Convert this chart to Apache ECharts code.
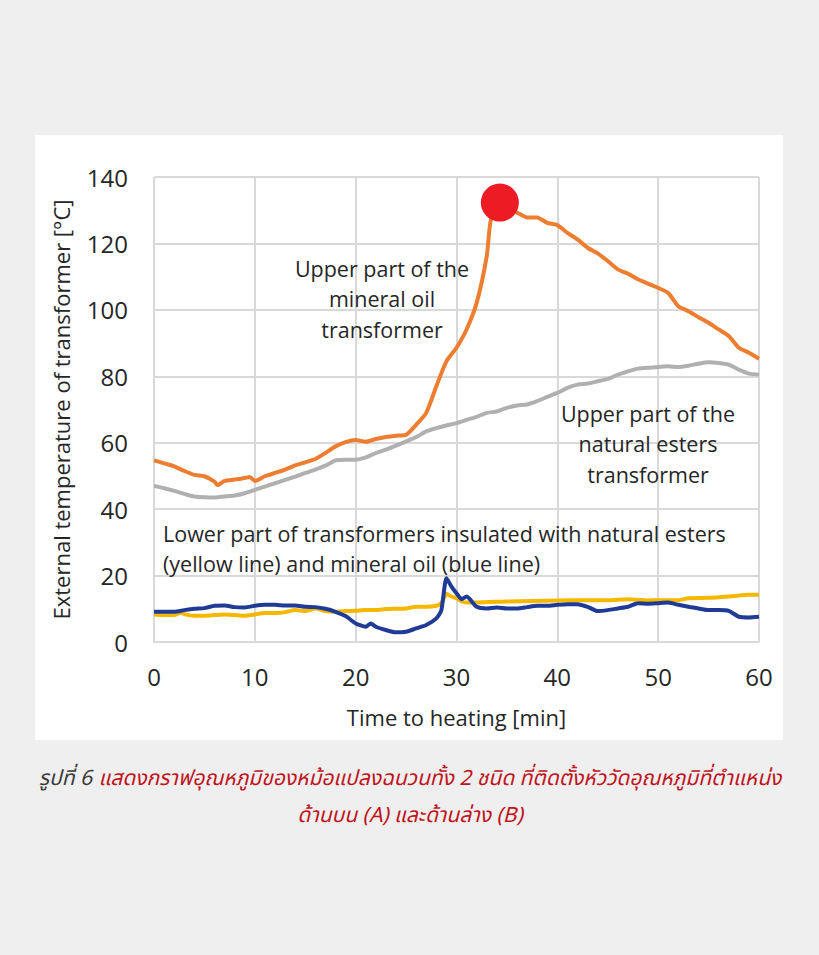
<!DOCTYPE html>
<html>
<head>
<meta charset="utf-8">
<script src="https://cdn.jsdelivr.net/npm/echarts@6/dist/echarts.min.js"></script>
<style>
  html, body { margin: 0; padding: 0; background: #efefef; }
  #chart { width: 819px; height: 955px; }
</style>
</head>
<body>
<div id="chart"></div>
<script>
// ---- Data ----
const xTicks = [0, 10, 20, 30, 40, 50, 60];
const yTicks = [0, 20, 40, 60, 80, 100, 120, 140];

const mineralUpperTime = [0,1,2,3,4,5,6,6.3,7,8,9,9.5,10,11,12,13,14,15,16,17,18,19,20,21,22,23,24,25,26,27,28,29,30,31,32,33,33.4,34.3,35,36,37,38,39,40,41,42,43,44,45,46,47,48,49,50,51,52,53,54,55,56,57,58,59,60];
const mineralUpperTemp = [54.7,53.8,52.9,51.5,50.3,49.9,48.3,47.2,48.5,48.9,49.4,49.7,48.5,49.9,50.9,51.9,53.2,54.1,55.1,56.9,58.9,60.2,60.8,60.3,61.1,61.7,62.1,62.4,65.4,69.0,77.0,84.5,88.6,94.1,102.1,116.2,127.0,132.3,130.3,129.3,127.8,127.8,126.2,125.5,123.2,121.2,118.7,117.0,114.7,112.2,110.9,109.2,107.9,106.6,105.1,101.1,99.6,97.8,96.1,94.1,92.1,88.6,87.1,85.3];

const esterUpperTime = [0,1,2,3,4,5,6,7,8,9,10,11,12,13,14,15,16,17,18,19,20,21,22,23,24,25,26,27,28,29,30,31,32,33,34,35,36,37,38,39,40,41,42,43,44,45,46,47,48,49,50,51,52,53,54,55,56,57,58,59,60];
const esterUpperTemp = [47.0,46.3,45.5,44.6,43.8,43.6,43.5,43.8,44.1,44.8,45.8,46.8,47.8,48.8,49.8,50.9,51.9,53.1,54.7,54.9,54.9,55.6,56.9,57.9,59.1,60.4,61.7,63.4,64.4,65.2,65.9,66.9,67.8,69.0,69.4,70.5,71.2,71.5,72.5,73.8,75.0,76.5,77.5,77.8,78.5,79.2,80.5,81.5,82.3,82.6,82.8,83.0,82.8,83.2,83.8,84.2,84.0,83.5,82.0,80.8,80.5];

const esterLowerTime = [0,1,2,2.7,3,4,5,6,7,8,9,10,11,12,13,14,15,16,17,18,19,20,21,22,23,24,25,26,27,28,28.5,29,29.5,30,30.5,31,32,35,40,43,45,47,49,50,52,53,55,57,59,60];
const esterLowerTemp = [8.3,8.1,8.1,8.9,8.4,7.9,7.9,8.1,8.3,8.1,7.9,8.3,8.7,8.7,9.0,9.6,9.3,10.1,9.3,9.1,9.3,9.4,9.6,9.6,9.9,10.0,10.1,10.6,10.6,10.9,11.7,14.5,13.7,13.2,12.2,11.9,11.9,12.2,12.5,12.6,12.6,12.9,12.5,12.6,12.6,13.2,13.3,13.7,14.2,14.2];

const mineralLowerTime = [0,2,3,4,5,6,7,8,9,10,11,12,13,14,15,16,17,18,19,20,21,21.5,22,23,24,25,26,27,28,28.5,29,29.5,30,30.5,31,32,33,34,35,36,37,38,39,40,41,42,43,44,45,46,47,48,49,50,51,52,53,54,55,56,57,58,59,60];
const mineralLowerTemp = [9.1,9.1,9.6,10.0,10.2,10.9,11.0,10.5,10.4,10.9,11.2,11.2,11.0,11.0,10.6,10.5,10.0,9.1,7.8,5.6,4.6,5.6,4.6,3.6,2.9,3.1,4.1,5.1,7.1,9.6,19.2,16.7,14.7,12.9,13.7,10.6,10.1,10.4,10.1,10.1,10.5,10.9,10.9,11.2,11.4,11.4,10.6,9.3,9.6,10.1,10.6,11.7,11.5,11.7,11.9,11.2,10.6,10.1,9.6,9.6,9.4,7.6,7.4,7.6];

const peakPoint = [34.3, 132.3];

const seriesNames = ['Upper part of the natural esters transformer', 'Upper part of the mineral oil transformer', 'Lower part, natural esters (yellow line)', 'Lower part, mineral oil (blue line)'];
const labelMineralUpper = 'Upper part of the\nmineral oil\ntransformer';
const labelEsterUpper = 'Upper part of the\nnatural esters\ntransformer';
const labelLower = 'Lower part of transformers insulated with natural esters\n(yellow line) and mineral oil (blue line)';
const xAxisTitle = 'Time to heating [min]';
const yAxisTitle = 'External temperature of transformer [°C]';
const captionPrefix = 'รูปที่ 6';
const captionLine1 = 'แสดงกราฟอุณหภูมิของหม้อแปลงฉนวนทั้ง 2 ชนิด ที่ติดตั้งหัววัดอุณหภูมิที่ตำแหน่ง';
const captionLine2 = 'ด้านบน (A) และด้านล่าง (B)';

function zip(a, b) { return a.map((t, i) => [t, b[i]]); }

const FONT = "'Open Sans', 'Noto Sans', 'DejaVu Sans', sans-serif";
const THAI_FONT = "'Noto Sans Thai', 'Noto Sans Thai Looped', 'Loma', 'Garuda', 'Noto Sans', sans-serif";
const textColor = '#262626';

const chart = echarts.init(document.getElementById('chart'), null, { renderer: 'svg' });

const lineStyleBase = { width: 4 };

chart.setOption({
  backgroundColor: '#efefef',
  animation: false,
  grid: { left: 154, right: 60, top: 177, bottom: 313, containLabel: false },
  xAxis: {
    type: 'value', min: 0, max: 60, interval: 10,
    name: xAxisTitle, nameLocation: 'middle', nameGap: 64,
    nameTextStyle: { fontFamily: FONT, fontSize: 22, color: textColor },
    axisLine: { show: true, lineStyle: { color: '#d9d9d9', width: 2 } },
    axisTick: { show: false },
    axisLabel: { fontFamily: FONT, fontSize: 24, color: textColor, margin: 22,
      formatter: v => xTicks.includes(v) ? String(v) : '' },
    splitLine: { show: true, lineStyle: { color: '#d9d9d9', width: 2 } }
  },
  yAxis: {
    type: 'value', min: 0, max: 140, interval: 20,
    name: yAxisTitle, nameLocation: 'middle', nameGap: 82, nameRotate: 90,
    nameTextStyle: { fontFamily: FONT, fontSize: 22, color: textColor },
    axisLine: { show: false },
    axisTick: { show: false },
    axisLabel: { fontFamily: FONT, fontSize: 24, color: textColor, margin: 26,
      formatter: v => yTicks.includes(v) ? String(v) : '' },
    splitLine: { show: true, lineStyle: { color: '#d9d9d9', width: 2 } }
  },
  graphic: [
    { type: 'rect', z: -10, silent: true, shape: { x: 35, y: 135, width: 748, height: 605 }, style: { fill: '#ffffff' } },
    { type: 'text', z: 10, x: 382, y: 253, style: { text: labelMineralUpper, font: '21.5px ' + FONT, fill: textColor, align: 'center', verticalAlign: 'top', lineHeight: 30.5 } },
    { type: 'text', z: 10, x: 648, y: 398, style: { text: labelEsterUpper, font: '21.5px ' + FONT, fill: textColor, align: 'center', verticalAlign: 'top', lineHeight: 30.5 } },
    { type: 'text', z: 10, x: 163, y: 518, style: { text: labelLower, font: '21.5px ' + FONT, fill: textColor, align: 'left', verticalAlign: 'top', lineHeight: 30 } },
    { type: 'text', z: 10, x: 410, y: 778, style: {
        text: '{p|' + captionPrefix + '}  {r|' + captionLine1 + '}',
        align: 'center', verticalAlign: 'middle',
        rich: {
          p: { fontFamily: THAI_FONT, fontSize: 21, fontStyle: 'italic', fill: '#3a3a3a', color: '#3a3a3a' },
          r: { fontFamily: THAI_FONT, fontSize: 21, fontStyle: 'italic', fill: '#c0141c', color: '#c0141c' }
        } } },
    { type: 'text', z: 10, x: 410, y: 815, style: {
        text: captionLine2, font: 'italic 21px ' + THAI_FONT, fill: '#c0141c', align: 'center', verticalAlign: 'middle' } }
  ],
  series: [
    { name: seriesNames[0], type: 'line', data: zip(esterUpperTime, esterUpperTemp), showSymbol: false, smooth: 0.2,
      lineStyle: Object.assign({ color: '#b0b0b0' }, lineStyleBase), itemStyle: { color: '#b0b0b0' }, z: 2 },
    { name: seriesNames[1], type: 'line', data: zip(mineralUpperTime, mineralUpperTemp), showSymbol: false, smooth: 0.2,
      lineStyle: Object.assign({ color: '#ed7d31' }, lineStyleBase), itemStyle: { color: '#ed7d31' }, z: 3 },
    { name: seriesNames[2], type: 'line', data: zip(esterLowerTime, esterLowerTemp), showSymbol: false, smooth: 0.2,
      lineStyle: Object.assign({ color: '#f5b800' }, lineStyleBase), itemStyle: { color: '#f5b800' }, z: 3 },
    { name: seriesNames[3], type: 'line', data: zip(mineralLowerTime, mineralLowerTemp), showSymbol: false, smooth: 0.2,
      lineStyle: Object.assign({ color: '#1f3b96' }, lineStyleBase), itemStyle: { color: '#1f3b96' }, z: 4 },
    { name: 'Peak', type: 'scatter', data: [peakPoint], symbolSize: 38, itemStyle: { color: '#ed1c24', opacity: 1 }, z: 6 }
  ]
});
</script>
</body>
</html>
